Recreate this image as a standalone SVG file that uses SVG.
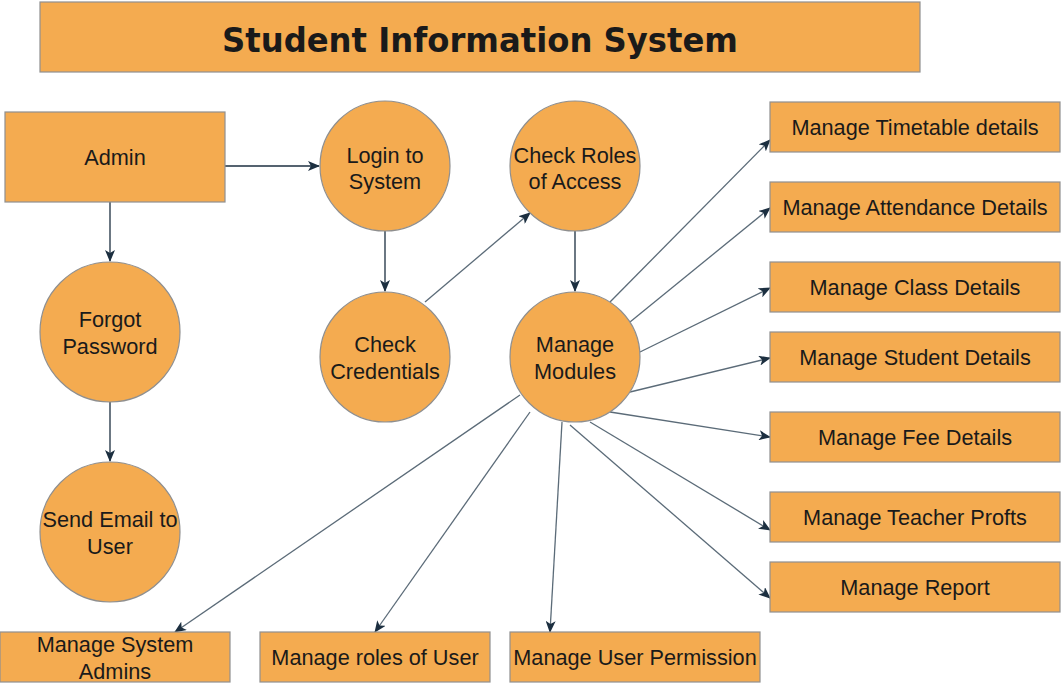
<svg xmlns="http://www.w3.org/2000/svg" width="1062" height="691" viewBox="0 0 1062 691">
  <style>
    .box { fill: #F4AB50; stroke: #8f8f8f; stroke-width: 1.2; }
    .lbl { font-family: "Liberation Sans", Arial, sans-serif; font-size: 21.7px; fill: #1a1a1a; text-anchor: middle; }
    .title { font-family: "DejaVu Sans", Verdana, sans-serif; font-weight: bold; font-size: 33px; fill: #1a1a1a; text-anchor: middle; }
    .flow { fill: none; stroke: #1c2f40; stroke-width: 1.3; }
    .spoke { fill: none; stroke: #5b6b78; stroke-width: 1.3; }
  </style>
  <defs>
    <marker id="arrow" viewBox="0 0 12 10" refX="11" refY="5" markerWidth="12" markerHeight="10" markerUnits="userSpaceOnUse" orient="auto">
      <path d="M0,0 L12,5 L0,10 L3,5 Z" fill="#1c2f40"/>
    </marker>
  </defs>

  <rect width="1062" height="691" fill="#ffffff"/>

  <g id="title">
    <rect class="box" x="40" y="2" width="880" height="70"/>
    <text class="title" x="480" y="52" textLength="516" lengthAdjust="spacingAndGlyphs">Student Information System</text>
  </g>

  <g id="connectors">
    <path class="flow" d="M220,166 L319,166" marker-end="url(#arrow)"/>
    <path class="flow" d="M110,202 L110,261" marker-end="url(#arrow)"/>
    <path class="flow" d="M110,402 L110,461" marker-end="url(#arrow)"/>
    <path class="flow" d="M385,231 L385,291" marker-end="url(#arrow)"/>
    <path class="spoke" d="M425,302 L530,213" marker-end="url(#arrow)"/>
    <path class="flow" d="M575,231 L575,291" marker-end="url(#arrow)"/>
    <path class="spoke" d="M610,302 L770,140" marker-end="url(#arrow)"/>
    <path class="spoke" d="M630,322 L770,208" marker-end="url(#arrow)"/>
    <path class="spoke" d="M640,352 L770,288" marker-end="url(#arrow)"/>
    <path class="spoke" d="M630,392 L770,358" marker-end="url(#arrow)"/>
    <path class="spoke" d="M610,412 L770,437" marker-end="url(#arrow)"/>
    <path class="spoke" d="M590,422 L770,530" marker-end="url(#arrow)"/>
    <path class="spoke" d="M570,425 L770,598" marker-end="url(#arrow)"/>
    <path class="spoke" d="M520,395 L175,632" marker-end="url(#arrow)"/>
    <path class="spoke" d="M530,412 L375,632" marker-end="url(#arrow)"/>
    <path class="spoke" d="M562,422 L550,632" marker-end="url(#arrow)"/>
  </g>

  <g id="admin">
    <rect class="box" x="5" y="112" width="220" height="90"/>
    <text class="lbl" x="115" y="165">Admin</text>
  </g>
  <g id="login">
    <circle class="box" cx="385" cy="166" r="65"/>
    <text class="lbl" x="385" y="163">Login to</text>
    <text class="lbl" x="385" y="189">System</text>
  </g>
  <g id="check-roles">
    <circle class="box" cx="575" cy="166" r="65"/>
    <text class="lbl" x="575" y="163">Check Roles</text>
    <text class="lbl" x="575" y="189">of Access</text>
  </g>
  <g id="check-credentials">
    <circle class="box" cx="385" cy="357" r="65"/>
    <text class="lbl" x="385" y="352">Check</text>
    <text class="lbl" x="385" y="379">Credentials</text>
  </g>
  <g id="manage-modules">
    <circle class="box" cx="575" cy="357" r="65"/>
    <text class="lbl" x="575" y="352">Manage</text>
    <text class="lbl" x="575" y="379">Modules</text>
  </g>
  <g id="forgot-password">
    <circle class="box" cx="110" cy="332" r="70"/>
    <text class="lbl" x="110" y="327">Forgot</text>
    <text class="lbl" x="110" y="354">Password</text>
  </g>
  <g id="send-email">
    <circle class="box" cx="110" cy="532" r="70"/>
    <text class="lbl" x="110" y="527">Send Email to</text>
    <text class="lbl" x="110" y="554">User</text>
  </g>

  <g id="timetable">
    <rect class="box" x="770" y="102" width="290" height="50"/>
    <text class="lbl" x="915" y="135">Manage Timetable details</text>
  </g>
  <g id="attendance">
    <rect class="box" x="770" y="182" width="290" height="50"/>
    <text class="lbl" x="915" y="215">Manage Attendance Details</text>
  </g>
  <g id="class">
    <rect class="box" x="770" y="262" width="290" height="50"/>
    <text class="lbl" x="915" y="295">Manage Class Details</text>
  </g>
  <g id="student">
    <rect class="box" x="770" y="332" width="290" height="50"/>
    <text class="lbl" x="915" y="365">Manage Student Details</text>
  </g>
  <g id="fee">
    <rect class="box" x="770" y="412" width="290" height="50"/>
    <text class="lbl" x="915" y="445">Manage Fee Details</text>
  </g>
  <g id="teacher">
    <rect class="box" x="770" y="492" width="290" height="50"/>
    <text class="lbl" x="915" y="525">Manage Teacher Profts</text>
  </g>
  <g id="report">
    <rect class="box" x="770" y="562" width="290" height="50"/>
    <text class="lbl" x="915" y="595">Manage Report</text>
  </g>

  <g id="system-admins">
    <rect class="box" x="0" y="632" width="230" height="50"/>
    <text class="lbl" x="115" y="652">Manage System</text>
    <text class="lbl" x="115" y="679">Admins</text>
  </g>
  <g id="user-roles">
    <rect class="box" x="260" y="632" width="230" height="50"/>
    <text class="lbl" x="375" y="665">Manage roles of User</text>
  </g>
  <g id="user-permission">
    <rect class="box" x="510" y="632" width="250" height="50"/>
    <text class="lbl" x="635" y="665">Manage User Permission</text>
  </g>
</svg>
